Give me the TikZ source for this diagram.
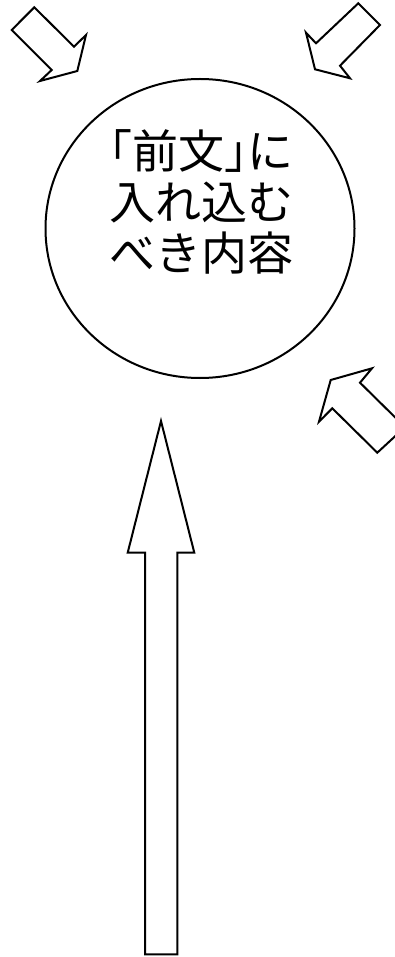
\documentclass[tikz,border=0pt]{standalone}
\usepackage{fontspec}
\newfontfamily\jpfont{Noto Sans CJK JP}
\newfontfamily\jphalt[RawFeature=+halt]{Noto Sans CJK JP}
\tikzset{
  blockarrow/.style={draw=black, fill=white, line width=2pt, line join=miter},
  topic/.style={draw=black, line width=2pt, ellipse, minimum width=309pt, minimum height=299pt, inner sep=0pt},
  topictext/.style={align=center, font=\jpfont\fontsize{46}{51}\selectfont, inner sep=0pt}
}
\usetikzlibrary{shapes.geometric}
\begin{document}
\begin{tikzpicture}[x=1pt, y=-1pt]
        \useasboundingbox (0,0) rectangle (394,957);
        % Circle with the contents
        \node[topic] (naiyou) at (200,228.5) {};
        \node[topictext] (naiyoutext) at (201,201.5)
          {{\jphalt 「}前文{\jphalt 」}に\\入れ込む\\べき内容};
        % Small arrows pointing at the circle
        \draw[blockarrow] (11.7,30) -- (34.3,7.3) -- (74,46.7) -- (86,35)
          -- (77.3,71) -- (40,81) -- (51.7,70) -- cycle;
        \draw[blockarrow] (380,25) -- (358.3,3.3) -- (316,43.3) -- (306,32.7)
          -- (315,69.3) -- (350,78.3) -- (340,65.7) -- cycle;
        \draw[blockarrow] (405,427.1) -- (360,382.7) -- (372,368.3)
          -- (330.7,380) -- (319,421.7) -- (332.3,408.3) -- (377.3,452.7) -- cycle;
        % Large arrow from below
        \draw[blockarrow] (161,421) -- (194.3,552.7) -- (177.3,552.7) -- (177.3,954.3)
          -- (145,954.3) -- (145,552.7) -- (127.7,552.7) -- cycle;
\end{tikzpicture}
\end{document}
